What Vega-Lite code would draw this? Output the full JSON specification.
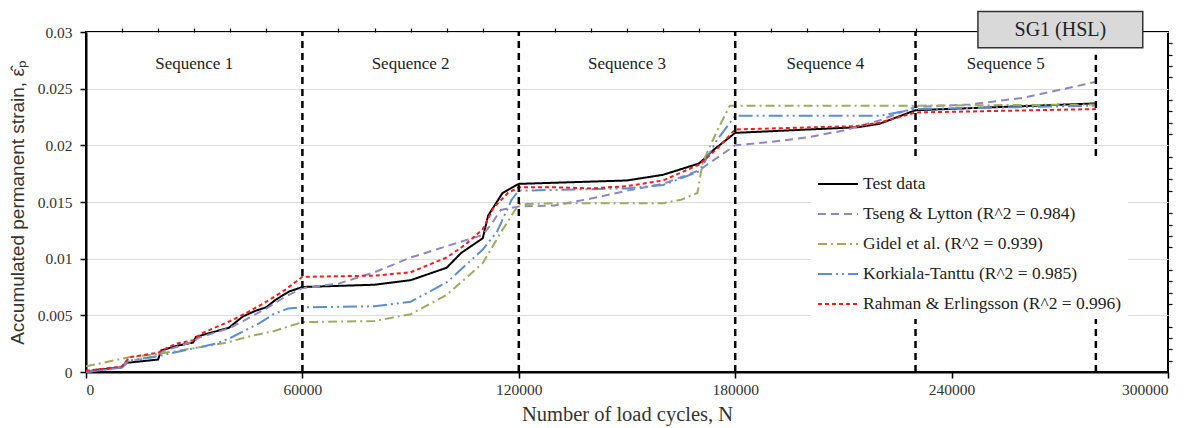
{
  "$schema": "https://vega.github.io/schema/vega-lite/v6.json",
  "width": 1082,
  "height": 340,
  "autosize": "none",
  "padding": {"left": 86, "top": 32, "right": 33, "bottom": 56},
  "background": "white",
  "config": {
    "view": {"stroke": "black", "strokeWidth": 2},
    "font": "Liberation Serif"
  },
  "datasets": {
    "curves": [
      {"series": "Test data", "n": 0, "e": 0},
      {"series": "Test data", "n": 3000, "e": 0.0002},
      {"series": "Test data", "n": 9700, "e": 0.0004},
      {"series": "Test data", "n": 11000, "e": 0.0008},
      {"series": "Test data", "n": 20000, "e": 0.0011},
      {"series": "Test data", "n": 20800, "e": 0.0019},
      {"series": "Test data", "n": 25000, "e": 0.0023},
      {"series": "Test data", "n": 29700, "e": 0.0026},
      {"series": "Test data", "n": 30500, "e": 0.0031},
      {"series": "Test data", "n": 35000, "e": 0.0035},
      {"series": "Test data", "n": 39600, "e": 0.0039},
      {"series": "Test data", "n": 43500, "e": 0.0049},
      {"series": "Test data", "n": 47000, "e": 0.0054},
      {"series": "Test data", "n": 49900, "e": 0.0057},
      {"series": "Test data", "n": 52700, "e": 0.0064},
      {"series": "Test data", "n": 56300, "e": 0.0071},
      {"series": "Test data", "n": 60000, "e": 0.0075},
      {"series": "Test data", "n": 80000, "e": 0.0077},
      {"series": "Test data", "n": 90000, "e": 0.0081},
      {"series": "Test data", "n": 100000, "e": 0.0092},
      {"series": "Test data", "n": 104000, "e": 0.0105},
      {"series": "Test data", "n": 110000, "e": 0.0118},
      {"series": "Test data", "n": 111500, "e": 0.0138},
      {"series": "Test data", "n": 115500, "e": 0.0158},
      {"series": "Test data", "n": 120000, "e": 0.0166},
      {"series": "Test data", "n": 130000, "e": 0.0167},
      {"series": "Test data", "n": 150000, "e": 0.0169},
      {"series": "Test data", "n": 160000, "e": 0.0174},
      {"series": "Test data", "n": 170000, "e": 0.0184},
      {"series": "Test data", "n": 174000, "e": 0.0196},
      {"series": "Test data", "n": 180000, "e": 0.0211},
      {"series": "Test data", "n": 214000, "e": 0.0216},
      {"series": "Test data", "n": 220000, "e": 0.0219},
      {"series": "Test data", "n": 230000, "e": 0.0231},
      {"series": "Test data", "n": 280000, "e": 0.0237},

      {"series": "Tseng & Lytton (R^2 = 0.984)", "n": 0, "e": 0},
      {"series": "Tseng & Lytton (R^2 = 0.984)", "n": 10000, "e": 0.0004},
      {"series": "Tseng & Lytton (R^2 = 0.984)", "n": 11000, "e": 0.0009},
      {"series": "Tseng & Lytton (R^2 = 0.984)", "n": 20000, "e": 0.0014},
      {"series": "Tseng & Lytton (R^2 = 0.984)", "n": 21000, "e": 0.0018},
      {"series": "Tseng & Lytton (R^2 = 0.984)", "n": 30000, "e": 0.0027},
      {"series": "Tseng & Lytton (R^2 = 0.984)", "n": 31000, "e": 0.003},
      {"series": "Tseng & Lytton (R^2 = 0.984)", "n": 40000, "e": 0.0039},
      {"series": "Tseng & Lytton (R^2 = 0.984)", "n": 50000, "e": 0.0056},
      {"series": "Tseng & Lytton (R^2 = 0.984)", "n": 55000, "e": 0.0066},
      {"series": "Tseng & Lytton (R^2 = 0.984)", "n": 60000, "e": 0.0074},
      {"series": "Tseng & Lytton (R^2 = 0.984)", "n": 70000, "e": 0.0078},
      {"series": "Tseng & Lytton (R^2 = 0.984)", "n": 80000, "e": 0.0088},
      {"series": "Tseng & Lytton (R^2 = 0.984)", "n": 90000, "e": 0.0101},
      {"series": "Tseng & Lytton (R^2 = 0.984)", "n": 100000, "e": 0.0111},
      {"series": "Tseng & Lytton (R^2 = 0.984)", "n": 110000, "e": 0.0121},
      {"series": "Tseng & Lytton (R^2 = 0.984)", "n": 112500, "e": 0.0131},
      {"series": "Tseng & Lytton (R^2 = 0.984)", "n": 115000, "e": 0.0143},
      {"series": "Tseng & Lytton (R^2 = 0.984)", "n": 120000, "e": 0.0146},
      {"series": "Tseng & Lytton (R^2 = 0.984)", "n": 130000, "e": 0.0147},
      {"series": "Tseng & Lytton (R^2 = 0.984)", "n": 140000, "e": 0.0153},
      {"series": "Tseng & Lytton (R^2 = 0.984)", "n": 150000, "e": 0.016},
      {"series": "Tseng & Lytton (R^2 = 0.984)", "n": 160000, "e": 0.0166},
      {"series": "Tseng & Lytton (R^2 = 0.984)", "n": 170000, "e": 0.0178},
      {"series": "Tseng & Lytton (R^2 = 0.984)", "n": 175000, "e": 0.0189},
      {"series": "Tseng & Lytton (R^2 = 0.984)", "n": 180000, "e": 0.02},
      {"series": "Tseng & Lytton (R^2 = 0.984)", "n": 190000, "e": 0.0203},
      {"series": "Tseng & Lytton (R^2 = 0.984)", "n": 200000, "e": 0.0207},
      {"series": "Tseng & Lytton (R^2 = 0.984)", "n": 210000, "e": 0.0213},
      {"series": "Tseng & Lytton (R^2 = 0.984)", "n": 220000, "e": 0.0222},
      {"series": "Tseng & Lytton (R^2 = 0.984)", "n": 230000, "e": 0.0234},
      {"series": "Tseng & Lytton (R^2 = 0.984)", "n": 245000, "e": 0.0236},
      {"series": "Tseng & Lytton (R^2 = 0.984)", "n": 260000, "e": 0.0242},
      {"series": "Tseng & Lytton (R^2 = 0.984)", "n": 280000, "e": 0.0256},

      {"series": "Gidel et al. (R^2 = 0.939)", "n": 0, "e": 0.0005},
      {"series": "Gidel et al. (R^2 = 0.939)", "n": 9000, "e": 0.0011},
      {"series": "Gidel et al. (R^2 = 0.939)", "n": 12000, "e": 0.0013},
      {"series": "Gidel et al. (R^2 = 0.939)", "n": 20000, "e": 0.0016},
      {"series": "Gidel et al. (R^2 = 0.939)", "n": 30000, "e": 0.0021},
      {"series": "Gidel et al. (R^2 = 0.939)", "n": 39000, "e": 0.0026},
      {"series": "Gidel et al. (R^2 = 0.939)", "n": 46000, "e": 0.0032},
      {"series": "Gidel et al. (R^2 = 0.939)", "n": 52000, "e": 0.0036},
      {"series": "Gidel et al. (R^2 = 0.939)", "n": 60000, "e": 0.0044},
      {"series": "Gidel et al. (R^2 = 0.939)", "n": 80000, "e": 0.0045},
      {"series": "Gidel et al. (R^2 = 0.939)", "n": 90000, "e": 0.0051},
      {"series": "Gidel et al. (R^2 = 0.939)", "n": 100000, "e": 0.0068},
      {"series": "Gidel et al. (R^2 = 0.939)", "n": 110000, "e": 0.0096},
      {"series": "Gidel et al. (R^2 = 0.939)", "n": 115000, "e": 0.0123},
      {"series": "Gidel et al. (R^2 = 0.939)", "n": 120000, "e": 0.0148},
      {"series": "Gidel et al. (R^2 = 0.939)", "n": 130000, "e": 0.0149},
      {"series": "Gidel et al. (R^2 = 0.939)", "n": 160000, "e": 0.0149},
      {"series": "Gidel et al. (R^2 = 0.939)", "n": 165000, "e": 0.0152},
      {"series": "Gidel et al. (R^2 = 0.939)", "n": 169500, "e": 0.0158},
      {"series": "Gidel et al. (R^2 = 0.939)", "n": 171000, "e": 0.0185},
      {"series": "Gidel et al. (R^2 = 0.939)", "n": 175000, "e": 0.0213},
      {"series": "Gidel et al. (R^2 = 0.939)", "n": 178500, "e": 0.0235},
      {"series": "Gidel et al. (R^2 = 0.939)", "n": 230000, "e": 0.0235},
      {"series": "Gidel et al. (R^2 = 0.939)", "n": 280000, "e": 0.0236},

      {"series": "Korkiala-Tanttu (R^2 = 0.985)", "n": 0, "e": 0},
      {"series": "Korkiala-Tanttu (R^2 = 0.985)", "n": 10000, "e": 0.0004},
      {"series": "Korkiala-Tanttu (R^2 = 0.985)", "n": 12000, "e": 0.001},
      {"series": "Korkiala-Tanttu (R^2 = 0.985)", "n": 20000, "e": 0.0014},
      {"series": "Korkiala-Tanttu (R^2 = 0.985)", "n": 30000, "e": 0.0021},
      {"series": "Korkiala-Tanttu (R^2 = 0.985)", "n": 36000, "e": 0.0025},
      {"series": "Korkiala-Tanttu (R^2 = 0.985)", "n": 40000, "e": 0.003},
      {"series": "Korkiala-Tanttu (R^2 = 0.985)", "n": 48000, "e": 0.0043},
      {"series": "Korkiala-Tanttu (R^2 = 0.985)", "n": 52000, "e": 0.0051},
      {"series": "Korkiala-Tanttu (R^2 = 0.985)", "n": 56000, "e": 0.0056},
      {"series": "Korkiala-Tanttu (R^2 = 0.985)", "n": 60000, "e": 0.0057},
      {"series": "Korkiala-Tanttu (R^2 = 0.985)", "n": 80000, "e": 0.0058},
      {"series": "Korkiala-Tanttu (R^2 = 0.985)", "n": 90000, "e": 0.0062},
      {"series": "Korkiala-Tanttu (R^2 = 0.985)", "n": 100000, "e": 0.0079},
      {"series": "Korkiala-Tanttu (R^2 = 0.985)", "n": 110000, "e": 0.0108},
      {"series": "Korkiala-Tanttu (R^2 = 0.985)", "n": 114000, "e": 0.0124},
      {"series": "Korkiala-Tanttu (R^2 = 0.985)", "n": 118000, "e": 0.0152},
      {"series": "Korkiala-Tanttu (R^2 = 0.985)", "n": 120000, "e": 0.016},
      {"series": "Korkiala-Tanttu (R^2 = 0.985)", "n": 150000, "e": 0.0162},
      {"series": "Korkiala-Tanttu (R^2 = 0.985)", "n": 160000, "e": 0.0165},
      {"series": "Korkiala-Tanttu (R^2 = 0.985)", "n": 170000, "e": 0.0177},
      {"series": "Korkiala-Tanttu (R^2 = 0.985)", "n": 175000, "e": 0.0205},
      {"series": "Korkiala-Tanttu (R^2 = 0.985)", "n": 180000, "e": 0.0226},
      {"series": "Korkiala-Tanttu (R^2 = 0.985)", "n": 220000, "e": 0.0226},
      {"series": "Korkiala-Tanttu (R^2 = 0.985)", "n": 230000, "e": 0.0232},
      {"series": "Korkiala-Tanttu (R^2 = 0.985)", "n": 280000, "e": 0.0235},

      {"series": "Rahman & Erlingsson (R^2 = 0.996)", "n": 0, "e": 0.0001},
      {"series": "Rahman & Erlingsson (R^2 = 0.996)", "n": 10000, "e": 0.0005},
      {"series": "Rahman & Erlingsson (R^2 = 0.996)", "n": 12000, "e": 0.0013},
      {"series": "Rahman & Erlingsson (R^2 = 0.996)", "n": 20000, "e": 0.0017},
      {"series": "Rahman & Erlingsson (R^2 = 0.996)", "n": 21000, "e": 0.0019},
      {"series": "Rahman & Erlingsson (R^2 = 0.996)", "n": 25000, "e": 0.0025},
      {"series": "Rahman & Erlingsson (R^2 = 0.996)", "n": 29700, "e": 0.0028},
      {"series": "Rahman & Erlingsson (R^2 = 0.996)", "n": 32000, "e": 0.0034},
      {"series": "Rahman & Erlingsson (R^2 = 0.996)", "n": 40000, "e": 0.0045},
      {"series": "Rahman & Erlingsson (R^2 = 0.996)", "n": 45000, "e": 0.0053},
      {"series": "Rahman & Erlingsson (R^2 = 0.996)", "n": 50000, "e": 0.0062},
      {"series": "Rahman & Erlingsson (R^2 = 0.996)", "n": 55000, "e": 0.0072},
      {"series": "Rahman & Erlingsson (R^2 = 0.996)", "n": 60000, "e": 0.0084},
      {"series": "Rahman & Erlingsson (R^2 = 0.996)", "n": 80000, "e": 0.0085},
      {"series": "Rahman & Erlingsson (R^2 = 0.996)", "n": 90000, "e": 0.0088},
      {"series": "Rahman & Erlingsson (R^2 = 0.996)", "n": 100000, "e": 0.0101},
      {"series": "Rahman & Erlingsson (R^2 = 0.996)", "n": 105000, "e": 0.0112},
      {"series": "Rahman & Erlingsson (R^2 = 0.996)", "n": 110000, "e": 0.0126},
      {"series": "Rahman & Erlingsson (R^2 = 0.996)", "n": 113000, "e": 0.0145},
      {"series": "Rahman & Erlingsson (R^2 = 0.996)", "n": 117000, "e": 0.0158},
      {"series": "Rahman & Erlingsson (R^2 = 0.996)", "n": 120000, "e": 0.0163},
      {"series": "Rahman & Erlingsson (R^2 = 0.996)", "n": 130000, "e": 0.0163},
      {"series": "Rahman & Erlingsson (R^2 = 0.996)", "n": 140000, "e": 0.0162},
      {"series": "Rahman & Erlingsson (R^2 = 0.996)", "n": 150000, "e": 0.0164},
      {"series": "Rahman & Erlingsson (R^2 = 0.996)", "n": 160000, "e": 0.0169},
      {"series": "Rahman & Erlingsson (R^2 = 0.996)", "n": 170000, "e": 0.0183},
      {"series": "Rahman & Erlingsson (R^2 = 0.996)", "n": 175000, "e": 0.0197},
      {"series": "Rahman & Erlingsson (R^2 = 0.996)", "n": 180000, "e": 0.0214},
      {"series": "Rahman & Erlingsson (R^2 = 0.996)", "n": 214000, "e": 0.0217},
      {"series": "Rahman & Erlingsson (R^2 = 0.996)", "n": 220000, "e": 0.022},
      {"series": "Rahman & Erlingsson (R^2 = 0.996)", "n": 230000, "e": 0.0229},
      {"series": "Rahman & Erlingsson (R^2 = 0.996)", "n": 280000, "e": 0.0232}
    ],
    "dividers": [
      {"n": 60000, "lo": 0, "hi": 0.03},
      {"n": 120000, "lo": 0, "hi": 0.03},
      {"n": 180000, "lo": 0, "hi": 0.03},
      {"n": 230000, "lo": 0, "hi": 0.03},
      {"n": 280000, "lo": 0, "hi": 0.028}
    ],
    "seqlabels": [
      {"label": "Sequence 1", "n": 30000, "e": 0.0272},
      {"label": "Sequence 2", "n": 90000, "e": 0.0272},
      {"label": "Sequence 3", "n": 150000, "e": 0.0272},
      {"label": "Sequence 4", "n": 205000, "e": 0.0272},
      {"label": "Sequence 5", "n": 255000, "e": 0.0272}
    ],
    "box": [
      {"label": "SG1 (HSL)", "x1": 247300, "x2": 293000, "y1": 0.0286, "y2": 0.0318, "xm": 270150, "ym": 0.0302}
    ]
  },
  "layer": [
    {
      "data": {"name": "curves"},
      "mark": {"type": "line", "strokeWidth": 2},
      "encoding": {
        "x": {
          "field": "n", "type": "quantitative",
          "scale": {"domain": [0, 300000], "nice": false, "zero": false},
          "axis": {
            "values": [0, 60000, 120000, 180000, 240000, 300000],
            "format": "d",
            "title": "Number of load cycles, N",
            "titleFont": "Liberation Serif", "titleFontSize": 20.5, "titleFontWeight": "normal", "titleColor": "#333333",
            "titlePadding": 7,
            "labelFont": "Liberation Serif", "labelFontSize": 15.5, "labelColor": "#333333",
            "labelPadding": 4,
            "domainColor": "black", "domainWidth": 2,
            "tickColor": "black", "tickSize": 6, "tickWidth": 1.5,
            "grid": false
          }
        },
        "y": {
          "field": "e", "type": "quantitative",
          "scale": {"domain": [0, 0.03], "nice": false, "zero": false},
          "axis": {
            "values": [0, 0.005, 0.01, 0.015, 0.02, 0.025, 0.03],
            "format": ".3~f",
            "title": "Accumulated  permanent strain, ε̂ₚ",
            "titleFont": "Liberation Sans", "titleFontSize": 19, "titleFontWeight": "normal", "titleColor": "#333333",
            "titlePadding": 10,
            "labelFont": "Liberation Serif", "labelFontSize": 15.5, "labelColor": "#333333",
            "labelPadding": 8,
            "domainColor": "black", "domainWidth": 2,
            "tickColor": "black", "tickSize": 6, "tickWidth": 1.5,
            "grid": true, "gridColor": "#dcdcdc", "gridWidth": 1.2
          }
        },
        "color": {
          "field": "series", "type": "nominal",
          "scale": {
            "domain": ["Test data", "Tseng & Lytton (R^2 = 0.984)", "Gidel et al. (R^2 = 0.939)", "Korkiala-Tanttu (R^2 = 0.985)", "Rahman & Erlingsson (R^2 = 0.996)"],
            "range": ["#000000", "#8e86c6", "#9bad5c", "#5b8fd0", "#ff1a1a"]
          },
          "legend": {
            "orient": "none", "legendX": 725, "legendY": 125,
            "title": null, "fillColor": "white", "padding": 6,
            "labelFont": "Liberation Serif", "labelFontSize": 17.5, "labelColor": "#222222", "labelLimit": 400, "labelOffset": 4,
            "symbolType": "stroke", "symbolSize": 1600, "symbolStrokeWidth": 2,
            "rowPadding": -11
          }
        },
        "strokeDash": {
          "field": "series", "type": "nominal",
          "scale": {
            "domain": ["Test data", "Tseng & Lytton (R^2 = 0.984)", "Gidel et al. (R^2 = 0.939)", "Korkiala-Tanttu (R^2 = 0.985)", "Rahman & Erlingsson (R^2 = 0.996)"],
            "range": [[1, 0], [8, 5], [9, 4, 2, 4], [14, 4, 2, 4, 2, 4], [4, 3]]
          },
          "legend": {
            "orient": "none", "legendX": 725, "legendY": 125,
            "title": null, "fillColor": "white", "padding": 6,
            "labelFont": "Liberation Serif", "labelFontSize": 17.5, "labelColor": "#222222", "labelLimit": 400, "labelOffset": 4,
            "symbolType": "stroke", "symbolSize": 1600, "symbolStrokeWidth": 2,
            "rowPadding": -11
          }
        }
      }
    },
    {
      "data": {"name": "dividers"},
      "mark": {"type": "rule", "color": "black", "strokeWidth": 2.5, "strokeDash": [7, 5]},
      "encoding": {
        "x": {
          "field": "n", "type": "quantitative",
          "axis": {
            "values": [10000, 20000, 30000, 40000, 50000, 70000, 80000, 90000, 100000, 110000, 130000, 140000, 150000, 160000, 170000, 190000, 200000, 210000, 220000, 230000, 250000, 260000, 270000, 280000, 290000],
            "labels": false, "title": null, "domain": false, "grid": false,
            "tickColor": "black", "tickSize": 4, "tickWidth": 1.2
          }
        },
        "y": {
          "field": "lo", "type": "quantitative",
          "axis": {
            "values": [0.001, 0.002, 0.003, 0.004, 0.006, 0.007, 0.008, 0.009, 0.011, 0.012, 0.013, 0.014, 0.016, 0.017, 0.018, 0.019, 0.021, 0.022, 0.023, 0.024, 0.026, 0.027, 0.028, 0.029],
            "labels": false, "title": null, "domain": false, "grid": false,
            "tickColor": "black", "tickSize": 4, "tickWidth": 1.2
          }
        },
        "y2": {"field": "hi"}
      }
    },
    {
      "data": {"name": "seqlabels"},
      "mark": {"type": "text", "font": "Liberation Serif", "fontSize": 17, "color": "#222222"},
      "encoding": {
        "x": {"field": "n", "type": "quantitative", "axis": null},
        "y": {"field": "e", "type": "quantitative", "axis": null},
        "text": {"field": "label"}
      }
    },
    {
      "data": {"name": "box"},
      "mark": {"type": "rect", "fill": "#d9d9d9", "stroke": "#333333", "strokeWidth": 1.5},
      "encoding": {
        "x": {"field": "x1", "type": "quantitative", "axis": null},
        "x2": {"field": "x2"},
        "y": {"field": "y1", "type": "quantitative", "axis": null},
        "y2": {"field": "y2"}
      }
    },
    {
      "data": {"name": "box"},
      "mark": {"type": "text", "font": "Liberation Serif", "fontSize": 20, "color": "#222222"},
      "encoding": {
        "x": {"field": "xm", "type": "quantitative", "axis": null},
        "y": {"field": "ym", "type": "quantitative", "axis": null},
        "text": {"field": "label"}
      }
    }
  ],
  "resolve": {"axis": {"x": "independent", "y": "independent"}}
}
